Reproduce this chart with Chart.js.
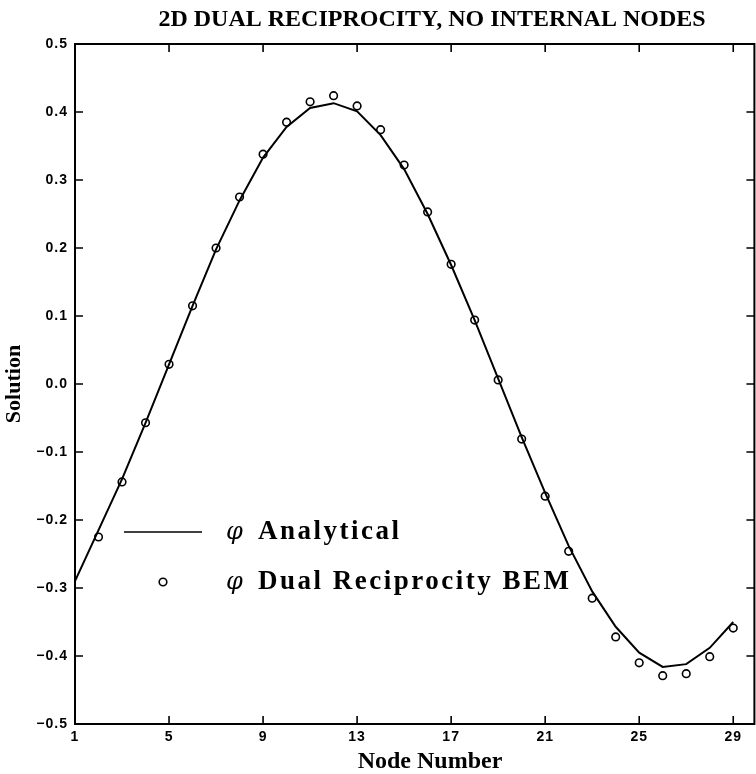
<!DOCTYPE html>
<html>
<head>
<meta charset="utf-8">
<script src="https://cdn.jsdelivr.net/npm/chart.js@4.4.1/dist/chart.umd.min.js"></script>
<style>
  html, body { margin: 0; padding: 0; background: #fff; overflow: hidden; }
  #wrap { width: 756px; height: 774px; overflow: hidden; position: relative; background: #fff; }
  canvas { display: block; }
</style>
</head>
<body>
<div id="wrap"><canvas id="c" width="760" height="774" style="width:760px;height:774px"></canvas></div>
<script>
// ---- data ----
const titleText = "2D DUAL RECIPROCITY, NO INTERNAL NODES";
const xTitle = "Node Number";
const yTitle = "Solution";
const phi = "\u03C6";
const legendLabels = ["Analytical", "Dual Reciprocity BEM"];
const nodes = [1,2,3,4,5,6,7,8,9,10,11,12,13,14,15,16,17,18,19,20,21,22,23,24,25,26,27,28,29];
const analytical = [-0.290,-0.215,-0.140,-0.057,0.029,0.115,0.198,0.270,0.333,0.378,0.406,0.413,0.401,
  0.366,0.316,0.250,0.175,0.094,0.008,-0.078,-0.160,-0.238,-0.305,-0.357,-0.395,-0.416,-0.412,-0.388,-0.350];
const bem = [null,-0.225,-0.144,-0.057,0.029,0.115,0.200,0.275,0.338,0.385,0.415,0.424,0.409,
  0.374,0.322,0.253,0.176,0.094,0.006,-0.081,-0.165,-0.246,-0.315,-0.372,-0.410,-0.429,-0.426,-0.401,-0.359];
const xTicks = [1,5,9,13,17,21,25,29];
const yMin = -0.5, yMax = 0.5, yStep = 0.1;
const xMin = 1, xMax = 29.9;

const fmtY = v => { const r = Math.round(v*10)/10; return (r < 0 ? "\u2212" : "") + Math.abs(r).toFixed(1); };

const spacingPlugin = {
  id: 'spacing',
  beforeDraw(chart) { try { chart.ctx.letterSpacing = '1px'; } catch (e) {} },
};

const framePlugin = {
  id: 'frame',
  afterDraw(chart) {
    const {ctx, chartArea: a, scales: {x, y}} = chart;
    ctx.save();
    try { ctx.letterSpacing = '0px'; } catch (e) {}
    ctx.strokeStyle = '#000';
    ctx.lineWidth = 2;
    ctx.strokeRect(a.left, a.top, a.right - a.left, a.bottom - a.top);
    const tl = 8;
    ctx.lineWidth = 1.6;
    ctx.beginPath();
    x.ticks.forEach(t => {
      const px = x.getPixelForValue(t.value);
      ctx.moveTo(px, a.bottom); ctx.lineTo(px, a.bottom - tl);
      ctx.moveTo(px, a.top); ctx.lineTo(px, a.top + tl);
    });
    y.ticks.forEach(t => {
      const py = y.getPixelForValue(t.value);
      ctx.moveTo(a.left, py); ctx.lineTo(a.left + tl, py);
      ctx.moveTo(a.right, py); ctx.lineTo(a.right - tl, py);
    });
    ctx.stroke();

    // titles
    ctx.fillStyle = '#000';
    ctx.textAlign = 'center';
    ctx.textBaseline = 'middle';
    ctx.font = 'bold 24px "Liberation Serif"';
    ctx.fillText(titleText, 432, 20);
    ctx.font = 'bold 24px "Liberation Serif"';
    ctx.fillText(xTitle, 430, 762);
    ctx.save();
    ctx.translate(14, (a.top + a.bottom) / 2);
    ctx.rotate(-Math.PI / 2);
    ctx.font = 'bold 22px "Liberation Serif"';
    ctx.fillText(yTitle, 0, 0);
    ctx.restore();

    // legend
    ctx.lineWidth = 1.5;
    ctx.beginPath();
    ctx.moveTo(124, 532); ctx.lineTo(202, 532);
    ctx.stroke();
    ctx.beginPath();
    ctx.lineWidth = 1.6;
    ctx.fillStyle = '#fff';
    ctx.arc(163, 582, 3.8, 0, Math.PI * 2);
    ctx.fill(); ctx.stroke();
    ctx.fillStyle = '#000';
    ctx.textAlign = 'left';
    ctx.font = 'italic 24px "DejaVu Serif"';
    ctx.fillText(phi, 226, 533);
    ctx.fillText(phi, 226, 583);
    ctx.font = 'bold 27px "Liberation Serif"';
    try { ctx.letterSpacing = '2.5px'; } catch (e) {}
    ctx.fillText(legendLabels[0], 258, 532);
    ctx.fillText(legendLabels[1], 258, 582);
    ctx.restore();
  }
};

new Chart(document.getElementById('c'), {
  type: 'scatter',
  data: {
    datasets: [
      {
        label: legendLabels[0],
        data: nodes.map((n, i) => ({x: n, y: analytical[i]})),
        showLine: true, borderColor: '#000', borderWidth: 2, pointRadius: 0, tension: 0, fill: false
      },
      {
        label: legendLabels[1],
        data: nodes.map((n, i) => ({x: n, y: bem[i]})),
        showLine: false, pointStyle: 'circle', pointRadius: 3.8,
        borderColor: '#000', borderWidth: 1.6, backgroundColor: '#fff'
      }
    ]
  },
  options: {
    responsive: false, animation: false,
    layout: { padding: { top: 44, left: 0, right: 1, bottom: 0 } },
    plugins: { legend: { display: false }, title: { display: false }, tooltip: { enabled: false } },
    scales: {
      x: {
        type: 'linear', min: xMin, max: xMax,
        grid: { display: false, drawTicks: false }, border: { display: false },
        afterBuildTicks: s => { s.ticks = xTicks.map(v => ({value: v})); },
        afterFit: s => { s.height = 50; },
        ticks: { color: '#000', font: { family: '"Liberation Sans"', weight: 'bold', size: 14 }, padding: 5,
                 maxRotation: 0, autoSkip: false, callback: v => String(v) }
      },
      y: {
        type: 'linear', min: yMin, max: yMax,
        grid: { display: false, drawTicks: false }, border: { display: false },
        afterFit: s => { s.width = 75; },
        ticks: { stepSize: yStep, color: '#000', font: { family: '"Liberation Sans"', weight: 'bold', size: 14 },
                 padding: 7, callback: v => fmtY(v) }
      }
    }
  },
  plugins: [spacingPlugin, framePlugin]
});
</script>
</body>
</html>
